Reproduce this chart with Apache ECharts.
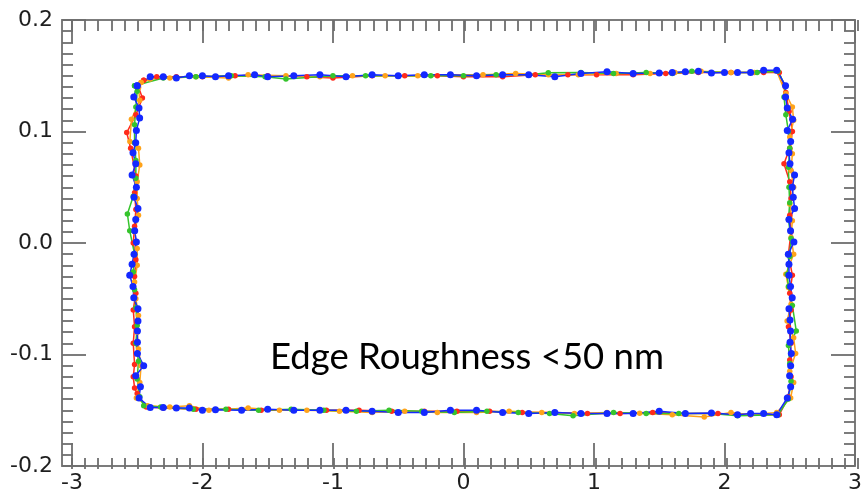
<!DOCTYPE html>
<html>
<head>
<meta charset="utf-8">
<script src="https://cdn.jsdelivr.net/npm/echarts@6/dist/echarts.min.js"></script>
<style>
  html, body { margin: 0; padding: 0; background: #fff; }
  #chart { width: 865px; height: 494px; }
</style>
</head>
<body>
<div id="chart"></div>
<script>
// Measured contour traces (x in µm, y in µm), one closed loop per run,
// listed clockwise from the top-left corner.
const redTrace = [
  [-2.45,0.146],[-2.35,0.149],[-2.20,0.149],[-2.00,0.149],[-1.75,0.150],[-1.50,0.150],[-1.20,0.149],[-1.00,0.148],
  [-0.70,0.150],[-0.45,0.150],[-0.20,0.150],[0.00,0.149],[0.30,0.149],[0.55,0.151],[0.80,0.151],[1.02,0.151],
  [1.30,0.151],[1.55,0.152],[1.80,0.153],[2.05,0.153],[2.30,0.153],[2.42,0.153],
  [2.47,0.135],[2.495,0.118],[2.52,0.100],[2.50,0.085],[2.456,0.071],[2.50,0.055],[2.51,0.040],[2.50,0.025],
  [2.51,0.010],[2.49,-0.010],[2.52,-0.029],[2.50,-0.045],[2.51,-0.060],[2.49,-0.075],[2.51,-0.090],[2.50,-0.105],
  [2.51,-0.120],[2.49,-0.138],
  [2.42,-0.154],[2.20,-0.154],[1.95,-0.153],[1.70,-0.153],[1.45,-0.152],[1.20,-0.153],[0.95,-0.153],[0.70,-0.152],
  [0.45,-0.152],[0.20,-0.151],[-0.05,-0.151],[-0.30,-0.151],[-0.55,-0.151],[-0.80,-0.150],[-1.05,-0.150],[-1.30,-0.150],
  [-1.55,-0.150],[-1.80,-0.149],[-2.05,-0.149],[-2.30,-0.148],[-2.43,-0.147],
  [-2.50,-0.135],[-2.52,-0.130],[-2.53,-0.120],[-2.52,-0.109],[-2.53,-0.090],[-2.52,-0.075],[-2.53,-0.060],[-2.51,-0.045],
  [-2.52,-0.030],[-2.51,-0.015],[-2.53,0.000],[-2.52,0.015],[-2.51,0.030],[-2.52,0.045],[-2.51,0.060],[-2.55,0.085],
  [-2.58,0.099],[-2.51,0.115],[-2.46,0.130],[-2.49,0.140]
];

const orangeTrace = [
  [-2.47,0.144],[-2.40,0.147],[-2.25,0.148],[-2.05,0.149],[-1.80,0.148],[-1.65,0.151],[-1.36,0.150],[-1.10,0.149],
  [-0.85,0.150],[-0.60,0.150],[-0.35,0.150],[-0.10,0.151],[0.15,0.151],[0.40,0.152],[0.65,0.151],[0.88,0.151],
  [1.17,0.152],[1.43,0.152],[1.62,0.153],[1.82,0.154],[2.05,0.153],[2.23,0.153],[2.40,0.154],
  [2.47,0.134],[2.52,0.122],[2.53,0.110],[2.50,0.095],[2.52,0.080],[2.51,0.065],[2.53,0.050],[2.50,0.035],
  [2.52,0.020],[2.51,0.005],[2.53,-0.010],[2.47,-0.028],[2.49,-0.040],[2.51,-0.055],[2.48,-0.070],[2.53,-0.085],
  [2.545,-0.099],[2.50,-0.115],[2.53,-0.125],[2.507,-0.139],
  [2.40,-0.152],[2.20,-0.154],[2.05,-0.152],[1.845,-0.156],[1.60,-0.154],[1.35,-0.1526],[1.10,-0.152],[0.85,-0.153],
  [0.60,-0.152],[0.35,-0.151],[0.10,-0.152],[-0.20,-0.152],[-0.45,-0.151],[-0.70,-0.152],[-0.95,-0.151],[-1.20,-0.150],
  [-1.41,-0.150],[-1.65,-0.148],[-1.95,-0.150],[-2.10,-0.146],[-2.25,-0.147],[-2.42,-0.146],
  [-2.506,-0.139],[-2.48,-0.125],[-2.47,-0.110],[-2.49,-0.095],[-2.50,-0.080],[-2.49,-0.065],[-2.51,-0.050],[-2.52,-0.035],
  [-2.50,-0.020],[-2.50,-0.005],[-2.52,0.010],[-2.49,0.025],[-2.50,0.040],[-2.50,0.055],[-2.48,0.070],[-2.49,0.085],
  [-2.556,0.091],[-2.544,0.111],[-2.48,0.128],[-2.49,0.139]
];

const greenTrace = [
  [-2.52,0.141],[-2.30,0.148],[-2.05,0.149],[-1.78,0.150],[-1.52,0.149],[-1.36,0.147],[-1.00,0.150],[-0.75,0.150],
  [-0.50,0.150],[-0.25,0.150],[0.00,0.150],[0.25,0.151],[0.50,0.151],[0.65,0.1526],[0.90,0.153],[1.15,0.152],
  [1.40,0.153],[1.60,0.152],[1.75,0.154],[2.00,0.153],[2.25,0.153],[2.41,0.154],
  [2.466,0.141],[2.456,0.131],[2.47,0.115],[2.49,0.100],[2.50,0.085],[2.49,0.068],[2.494,0.050],[2.50,0.036],
  [2.49,0.021],[2.51,0.004],[2.50,-0.012],[2.48,-0.028],[2.49,-0.039],[2.52,-0.056],[2.55,-0.079],[2.49,-0.092],
  [2.50,-0.108],[2.51,-0.124],[2.49,-0.140],
  [2.41,-0.154],[2.10,-0.155],[1.90,-0.153],[1.65,-0.153],[1.40,-0.153],[1.15,-0.152],[0.84,-0.155],[0.66,-0.153],
  [0.42,-0.152],[0.18,-0.151],[-0.07,-0.152],[-0.32,-0.151],[-0.57,-0.150],[-0.82,-0.151],[-1.07,-0.150],[-1.32,-0.149],
  [-1.57,-0.150],[-1.82,-0.149],[-2.07,-0.149],[-2.32,-0.147],[-2.45,-0.146],
  [-2.48,-0.138],[-2.50,-0.122],[-2.49,-0.106],[-2.51,-0.090],[-2.50,-0.074],[-2.51,-0.058],[-2.52,-0.042],[-2.53,-0.026],
  [-2.52,-0.010],[-2.557,0.011],[-2.575,0.026],[-2.53,0.042],[-2.51,0.058],[-2.51,0.074],[-2.52,0.090],[-2.52,0.106],
  [-2.51,0.122],[-2.50,0.136]
];

const blueTrace = [
  [-2.50,0.141],
  [-2.40,0.149],[-2.30,0.149],[-2.20,0.148],[-2.10,0.150],[-2.00,0.150],[-1.90,0.149],[-1.80,0.150],[-1.60,0.151],
  [-1.50,0.149],[-1.30,0.150],[-1.10,0.151],[-0.90,0.149],[-0.70,0.151],[-0.50,0.150],[-0.30,0.151],[-0.10,0.151],
  [0.10,0.150],[0.30,0.151],[0.50,0.151],[0.70,0.149],[0.90,0.152],[1.10,0.1535],[1.30,0.152],[1.50,0.1525],
  [1.60,0.153],[1.70,0.1535],[1.80,0.154],[1.90,0.1525],[2.00,0.153],[2.10,0.153],[2.20,0.153],[2.30,0.155],[2.40,0.155],
  [2.468,0.141],[2.468,0.131],[2.481,0.121],[2.522,0.111],[2.481,0.101],[2.507,0.091],[2.494,0.081],[2.502,0.071],
  [2.537,0.061],[2.519,0.050],[2.527,0.041],[2.537,0.031],[2.494,0.021],[2.506,0.011],[2.532,0.001],[2.489,-0.010],
  [2.494,-0.019],[2.494,-0.029],[2.506,-0.039],[2.519,-0.049],[2.494,-0.059],[2.502,-0.069],[2.506,-0.079],[2.502,-0.089],
  [2.512,-0.099],[2.507,-0.110],[2.499,-0.119],[2.507,-0.129],[2.481,-0.139],
  [2.40,-0.154],[2.30,-0.153],[2.20,-0.153],[2.10,-0.154],[1.90,-0.1525],[1.70,-0.153],[1.50,-0.151],[1.30,-0.153],
  [1.10,-0.153],[0.90,-0.153],[0.70,-0.152],[0.50,-0.153],[0.30,-0.152],[0.10,-0.150],[-0.10,-0.150],[-0.30,-0.152],
  [-0.50,-0.152],[-0.70,-0.151],[-0.90,-0.150],[-1.10,-0.150],[-1.30,-0.150],[-1.50,-0.149],[-1.70,-0.150],[-1.90,-0.1496],
  [-2.00,-0.150],[-2.10,-0.148],[-2.20,-0.148],[-2.30,-0.1476],[-2.40,-0.1476],
  [-2.486,-0.139],[-2.475,-0.129],[-2.511,-0.119],[-2.450,-0.110],[-2.498,-0.099],[-2.498,-0.089],[-2.498,-0.079],[-2.494,-0.070],
  [-2.494,-0.059],[-2.526,-0.049],[-2.532,-0.039],[-2.557,-0.029],[-2.539,-0.019],[-2.524,-0.010],[-2.506,0.001],[-2.519,0.011],
  [-2.511,0.021],[-2.494,0.031],[-2.524,0.041],[-2.506,0.050],[-2.539,0.061],[-2.511,0.071],[-2.532,0.081],[-2.511,0.090],
  [-2.506,0.101],[-2.481,0.112],[-2.486,0.121],[-2.526,0.131]
];

// Axis ranges and tick labels
const xRange = [-3.076, 3];
const yRange = [-0.2, 0.2];
const xMajorTicks = [-3, -2, -1, 0, 1, 2, 3];
const xMinorTicks = [];
for (let i = -30; i <= 30; i++) xMinorTicks.push(i / 10);
const annotation = 'Edge Roughness <50 nm';

const runs = [
  { name: 'run 1', pts: redTrace,    color: '#ff2a1a', size: 5.5 },
  { name: 'run 2', pts: orangeTrace, color: '#ffa31a', size: 5.5 },
  { name: 'run 3', pts: greenTrace,  color: '#35c42c', size: 5.5 },
  { name: 'run 4', pts: blueTrace,   color: '#1428ff', size: 7 }
];

const frameColor = '#7c7c7c';
const tickStyle = { color: '#6e6e6e', width: 1.8 };
const labelStyle = { color: '#1e1e1e', fontSize: 22, fontFamily: 'DejaVu Sans' };
const gridBox = { left: 62, right: 7, top: 20, bottom: 25 };

function xAxisDef(gridIndex, position, ticks, len, withLabels, withLine) {
  return {
    type: 'value', gridIndex, position, min: xRange[0], max: xRange[1],
    axisLine: { show: withLine, onZero: false, lineStyle: { color: frameColor, width: 2 } },
    axisTick: { show: true, inside: true, length: len, customValues: ticks, lineStyle: tickStyle },
    axisLabel: withLabels
      ? Object.assign({ show: true, customValues: ticks, margin: 6, formatter: v => String(v) }, labelStyle)
      : { show: false },
    splitLine: { show: false }
  };
}

function yAxisDef(gridIndex, position, withLabels) {
  return {
    type: 'value', gridIndex, position, min: yRange[0], max: yRange[1], interval: 0.1,
    axisLine: { show: true, onZero: false, lineStyle: { color: frameColor, width: 2 } },
    axisTick: { show: true, inside: true, length: 24, lineStyle: tickStyle },
    minorTick: { show: true, splitNumber: 10, length: 11, lineStyle: tickStyle },
    axisLabel: withLabels
      ? Object.assign({ show: true, margin: 9, formatter: v => v.toFixed(1) }, labelStyle)
      : { show: false },
    splitLine: { show: false },
    minorSplitLine: { show: false }
  };
}

const chart = echarts.init(document.getElementById('chart'), null, { renderer: 'canvas' });

chart.setOption({
  animation: false,
  backgroundColor: '#ffffff',
  grid: [Object.assign({}, gridBox), Object.assign({}, gridBox)],
  xAxis: [
    xAxisDef(0, 'bottom', xMajorTicks, 23, true, true),
    xAxisDef(0, 'top', xMajorTicks, 23, false, true),
    xAxisDef(1, 'bottom', xMinorTicks, 11, false, false),
    xAxisDef(1, 'top', xMinorTicks, 11, false, false)
  ],
  yAxis: [
    yAxisDef(0, 'left', true),
    yAxisDef(0, 'right', false),
    { type: 'value', gridIndex: 1, min: yRange[0], max: yRange[1], show: false }
  ],
  series: runs.map(r => ({
    name: r.name,
    type: 'line',
    xAxisIndex: 0,
    yAxisIndex: 0,
    data: r.pts.concat([r.pts[0]]),
    symbol: 'circle',
    symbolSize: r.size,
    showSymbol: true,
    itemStyle: { color: r.color },
    lineStyle: { color: r.color, width: 1.5 },
    emphasis: { disabled: true },
    clip: false
  })),
  graphic: [{
    type: 'text',
    left: 270,
    top: 339,
    style: {
      text: annotation,
      font: '36.5px Lato',
      fill: '#000000'
    }
  }]
});
</script>
</body>
</html>
